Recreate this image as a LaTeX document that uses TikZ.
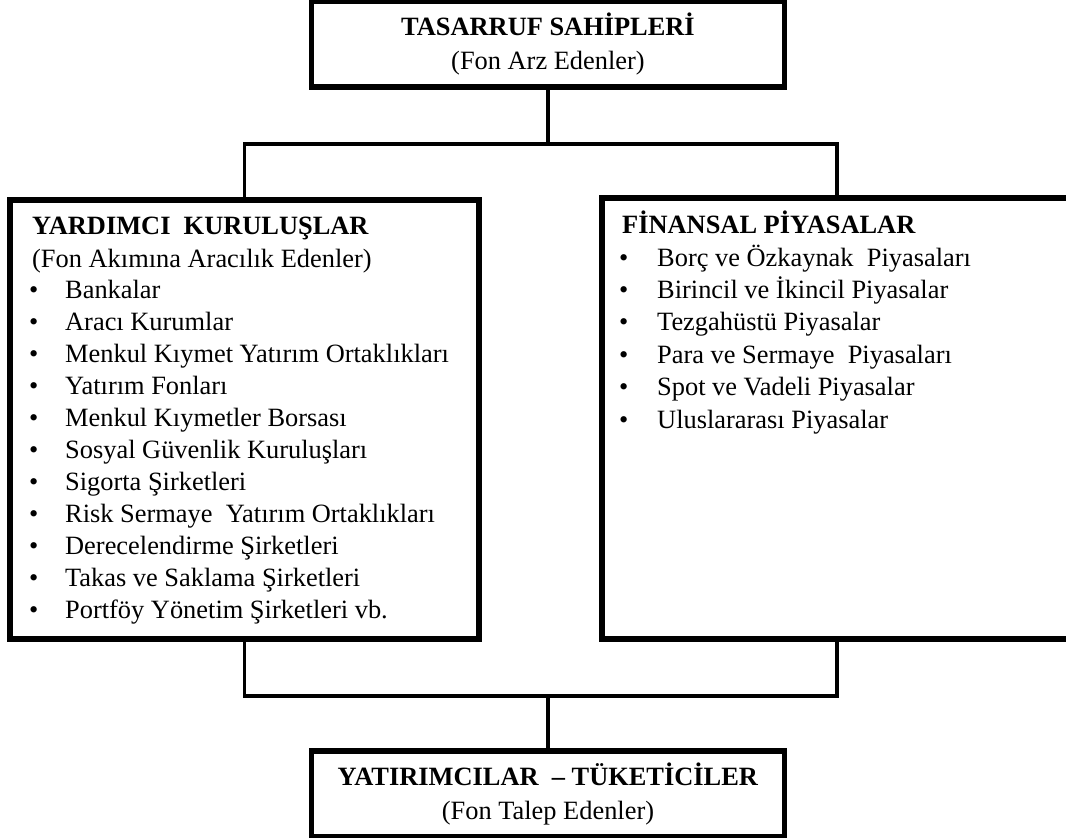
\documentclass[tikz,border=0pt]{standalone}
\usepackage{fontspec}
\setmainfont{Liberation Serif}
\usepackage{tikz}
\usetikzlibrary{positioning,calc}
\tikzset{
  basebox/.style={rectangle,draw=black,line width=5.5pt,fill=white,inner sep=0pt},
  headbox/.style={basebox,minimum width=473pt,minimum height=85.5pt,align=center,font=\fontsize{26.4}{34}\selectfont},
  listbox/.style={basebox,minimum width=470pt,minimum height=440pt},
  titletxt/.style={anchor=base west,inner sep=0pt,font=\fontsize{26.4}{32}\selectfont\bfseries},
  itemtxt/.style={anchor=base west,inner sep=0pt,font=\fontsize{26.4}{32}\selectfont},
  conn/.style={draw=black,line width=3.5pt}
}

\begin{document}
\begin{tikzpicture}[x=1pt,y=-1pt]
  \clip (0,0) rectangle (1066,838);
  \fill[white] (0,0) rectangle (1066,838);

  %% Connector junctions
  \coordinate (jtop) at (548,144);
  \coordinate (jbot) at (548,696);

  %% Main boxes
  \node[headbox] (sahip) at (548,44)
    {\textbf{TASARRUF SAHİPLERİ}\\(Fon Arz Edenler)};
  \node[headbox] (yatir) at (548,793.5)
    {\textbf{YATIRIMCILAR \ – TÜKETİCİLER}\\(Fon Talep Edenler)};
  \node[listbox,minimum width=469pt,minimum height=439pt] (yard) at (244.5,419.5) {};
  \node[listbox,minimum height=441pt] (fin) at (837,418.5) {};

  %% Connectors
  \draw[conn] (sahip.south) -- (jtop);
  \draw[conn] (yard.north) |- (jtop) -| (fin.north);
  \draw[conn] (yard.south) |- (jbot) -| (fin.south);
  \draw[conn] (jbot) -- (yatir.north);

  %% Left box text
  \node[titletxt] (yardhead) at (32,234) {YARDIMCI\ \ KURULUŞLAR};
  \node[itemtxt] (yardsub) at (32,267) {(Fon Akımına Aracılık Edenler)};
  \foreach \itm [count=\i] in {Bankalar,Aracı Kurumlar,Menkul Kıymet\ Yatırım Ortaklıkları,
      Yatırım Fonları,Menkul Kıymetler Borsası,Sosyal Güvenlik Kuruluşları,
      Sigorta Şirketleri,Risk Sermaye\ \ Yatırım Ortaklıkları,Derecelendirme\ Şirketleri,
      Takas ve Saklama Şirketleri,Portföy Yönetim Şirketleri vb.} {
    \node[itemtxt] (yardit\i) at (29,{298+(\i-1)*32})
      {\makebox[36pt][l]{\textbullet}\itm};
  }

  %% Right box text
  \node[titletxt] (finhead) at (622,233) {FİNANSAL PİYASALAR};
  \foreach \itm [count=\i] in {Borç ve Özkaynak\ \ Piyasaları,Birincil ve İkincil Piyasalar,
      Tezgahüstü Piyasalar,Para ve Sermaye\ \ Piyasaları,Spot ve Vadeli Piyasalar,
      Uluslararası Piyasalar} {
    \node[itemtxt] (finit\i) at (619,{266+(\i-1)*32.4})
      {\makebox[38pt][l]{\textbullet}\itm};
  }
\end{tikzpicture}
\end{document}
